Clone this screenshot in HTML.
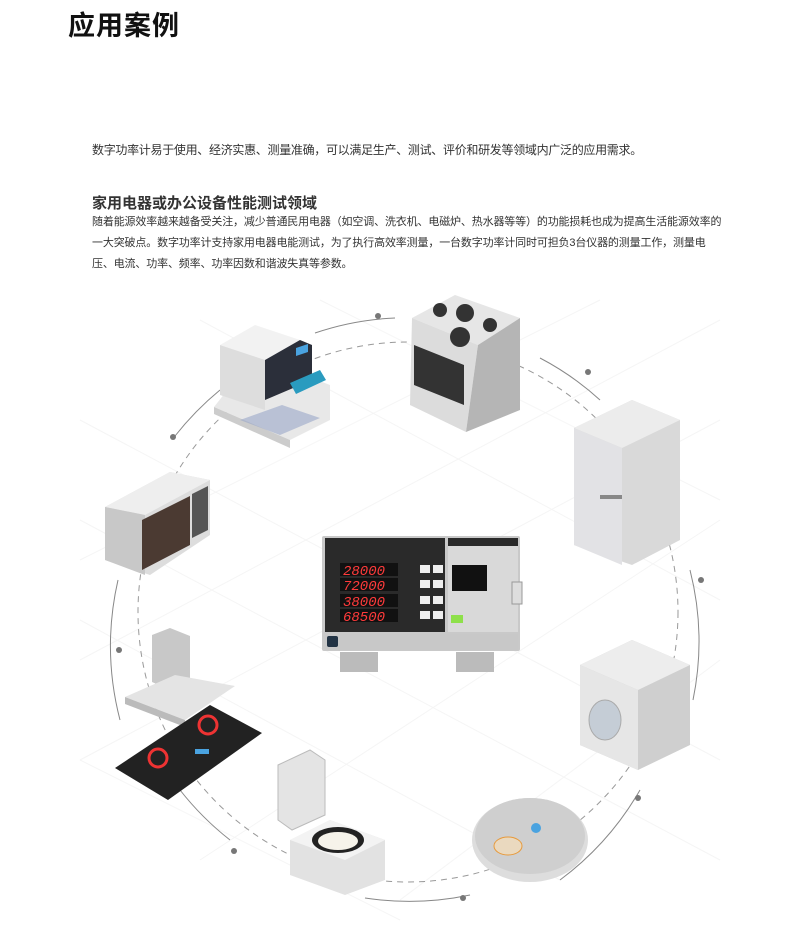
<!DOCTYPE html>
<html><head><meta charset="utf-8"><style>
body{margin:0;width:796px;height:925px;background:#fff;position:relative;overflow:hidden;font-family:"Liberation Sans","Noto Sans CJK SC",sans-serif;}
.t{position:absolute;color:#222;white-space:nowrap;}
</style></head><body>
<div class="t" style="left:68px;top:4px;font-size:27px;font-weight:bold;color:#111;letter-spacing:1px">应用案例</div>
<div class="t" style="left:92px;top:141px;font-size:12px;color:#333;letter-spacing:-0.3px">数字功率计易于使用、经济实惠、测量准确，可以满足生产、测试、评价和研发等领域内广泛的应用需求。</div>
<div class="t" style="left:92px;top:192px;font-size:15px;font-weight:bold;color:#333">家用电器或办公设备性能测试领域</div>
<div class="t" style="left:92px;top:212px;font-size:11px;line-height:21px;color:#333;letter-spacing:-0.15px">随着能源效率越来越备受关注，减少普通民用电器（如空调、洗衣机、电磁炉、热水器等等）的功能损耗也成为提高生活能源效率的<br>一大突破点。数字功率计支持家用电器电能测试，为了执行高效率测量，一台数字功率计同时可担负3台仪器的测量工作，测量电<br>压、电流、功率、频率、功率因数和谐波失真等参数。</div>
<svg style="position:absolute;left:0;top:0" width="796" height="925">
<g stroke="#f5f5f5" stroke-width="1">
<path d="M80 420 L720 760 M80 520 L720 860 M80 620 L560 880 M200 320 L720 600 M320 300 L720 500 M80 760 L400 920 M720 420 L80 760 M720 520 L200 860 M720 320 L80 660 M600 300 L80 560 M720 660 L400 900"/>
</g>
<circle cx="408" cy="612" r="270" fill="none" stroke="#999" stroke-width="1" stroke-dasharray="6 5"/>
<g fill="none" stroke="#888" stroke-width="1">
<path d="M315 333 A285 285 0 0 1 395 318"/>
<path d="M540 358 A285 285 0 0 1 600 400"/>
<path d="M690 570 A290 290 0 0 1 693 700"/>
<path d="M640 790 A295 295 0 0 1 560 880"/>
<path d="M470 895 A295 295 0 0 1 365 898"/>
<path d="M230 840 A295 295 0 0 1 180 790"/>
<path d="M118 580 A295 295 0 0 0 120 720"/>
<path d="M175 436 A300 300 0 0 1 220 390"/>
</g>
<g fill="#777"><circle cx="378" cy="316" r="3"/><circle cx="588" cy="372" r="3"/><circle cx="701" cy="580" r="3"/><circle cx="638" cy="798" r="3"/><circle cx="463" cy="898" r="3"/><circle cx="234" cy="851" r="3"/><circle cx="119" cy="650" r="3"/><circle cx="173" cy="437" r="3"/></g>
<polygon points="214,407 290,440 330,420 330,385 254,356" fill="#e8e8e8"/>
<polygon points="214,407 290,440 290,448 214,414" fill="#ccc"/>
<polygon points="220,345 255,325 300,340 265,360" fill="#f2f2f2"/>
<polygon points="220,345 265,360 265,410 220,395" fill="#ddd"/>
<polygon points="265,360 300,340 312,345 312,380 265,400" fill="#2b2f3a"/>
<polygon points="296,348 308,344 308,352 296,356" fill="#4aa3e0"/>
<polygon points="290,383 320,370 326,380 296,394" fill="#2a9bbf"/>
<polygon points="240,420 280,435 320,418 282,405" fill="#9aa6c8" opacity=".6"/>
<polygon points="412,318 455,295 520,318 478,345" fill="#e6e6e6"/>
<polygon points="412,318 478,345 466,432 410,405" fill="#dcdcdc"/>
<polygon points="478,345 520,318 520,410 466,432" fill="#b5b5b5"/>
<polygon points="414,345 464,365 464,405 414,385" fill="#333"/>
<circle cx="465" cy="313" r="9" fill="#333"/><circle cx="440" cy="310" r="7" fill="#333"/><circle cx="490" cy="325" r="7" fill="#333"/><circle cx="460" cy="337" r="10" fill="#333"/>
<polygon points="574,428 632,400 680,420 680,540 632,565 574,545" fill="#d9d9d9"/>
<polygon points="574,428 632,400 680,420 622,448" fill="#ececec"/>
<polygon points="574,428 622,448 622,565 574,545" fill="#e2e2e5"/>
<rect x="600" y="495" width="22" height="4" fill="#888"/>
<polygon points="105,507 170,472 210,480 210,535 150,575 105,560" fill="#ddd"/>
<polygon points="105,507 170,472 210,480 145,515" fill="#eee"/>
<polygon points="105,507 145,515 145,575 105,560" fill="#c8c8c8"/>
<polygon points="142,520 190,496 190,545 142,570" fill="#4b3a32"/>
<polygon points="192,494 208,486 208,530 192,538" fill="#555"/>
<rect x="322" y="536" width="198" height="115" fill="#c9c9c9" rx="2"/>
<rect x="325" y="538" width="120" height="94" fill="#2a2a2a"/>
<rect x="448" y="538" width="70" height="94" fill="#d9d9d9"/>
<rect x="448" y="538" width="70" height="8" fill="#2a2a2a"/>
<rect x="325" y="634" width="193" height="16" fill="#c8c8c8"/>
<rect x="327" y="636" width="11" height="11" fill="#234" rx="2"/>
<g fill="#111"><rect x="340" y="563" width="58" height="13"/><rect x="340" y="578" width="58" height="13"/><rect x="340" y="594" width="58" height="13"/><rect x="340" y="609" width="58" height="13"/></g>
<g fill="#ff3b3b" font-family="Liberation Mono,monospace" font-size="14" font-style="italic"><text x="343" y="575">28000</text><text x="343" y="590">72000</text><text x="343" y="606">38000</text><text x="343" y="621">68500</text></g>
<g fill="#eee"><rect x="420" y="565" width="10" height="8"/><rect x="433" y="565" width="10" height="8"/><rect x="420" y="580" width="10" height="8"/><rect x="433" y="580" width="10" height="8"/><rect x="420" y="596" width="10" height="8"/><rect x="433" y="596" width="10" height="8"/><rect x="420" y="611" width="10" height="8"/><rect x="433" y="611" width="10" height="8"/></g>
<rect x="452" y="565" width="35" height="26" fill="#111"/>
<rect x="451" y="615" width="12" height="8" fill="#8ee04a"/>
<rect x="340" y="652" width="38" height="20" fill="#bbb"/><rect x="456" y="652" width="38" height="20" fill="#bbb"/>
<rect x="512" y="582" width="10" height="22" fill="#ddd" stroke="#999"/>
<polygon points="580,665 632,640 690,665 690,745 638,770 580,745" fill="#cfcfcf"/>
<polygon points="580,665 632,640 690,665 638,690" fill="#ededed"/>
<polygon points="580,665 638,690 638,770 580,745" fill="#e6e6e6"/>
<ellipse cx="605" cy="720" rx="16" ry="20" fill="#c5cdd6" stroke="#aaa"/>
<polygon points="152,635 170,628 190,636 190,680 170,690 152,682" fill="#c8c8c8"/>
<polygon points="125,697 175,675 235,686 185,720" fill="#e4e4e4"/>
<polygon points="125,697 185,720 185,727 125,704" fill="#bbb"/>
<polygon points="115,768 210,705 262,733 168,800" fill="#222"/>
<circle cx="158" cy="758" r="9" fill="none" stroke="#e33" stroke-width="3"/>
<circle cx="208" cy="725" r="9" fill="none" stroke="#e33" stroke-width="3"/>
<rect x="195" y="749" width="14" height="5" fill="#4aa3e0"/>
<polygon points="278,765 310,750 325,760 325,815 292,830 278,820" fill="#e4e4e4" stroke="#bbb"/>
<polygon points="290,840 330,820 385,840 385,880 345,895 290,875" fill="#e2e2e2"/>
<polygon points="290,840 330,820 385,840 345,860" fill="#f3f3f3"/>
<ellipse cx="338" cy="840" rx="26" ry="13" fill="#222"/>
<ellipse cx="338" cy="841" rx="20" ry="9" fill="#f6f3ea"/>
<ellipse cx="530" cy="840" rx="58" ry="42" fill="#ddd"/>
<ellipse cx="530" cy="836" rx="55" ry="38" fill="#cfcfcf"/>
<ellipse cx="508" cy="846" rx="14" ry="9" fill="#ead9bf" stroke="#e79a3c"/>
<circle cx="536" cy="828" r="5" fill="#4aa3e0"/>
</svg>
</body></html>
